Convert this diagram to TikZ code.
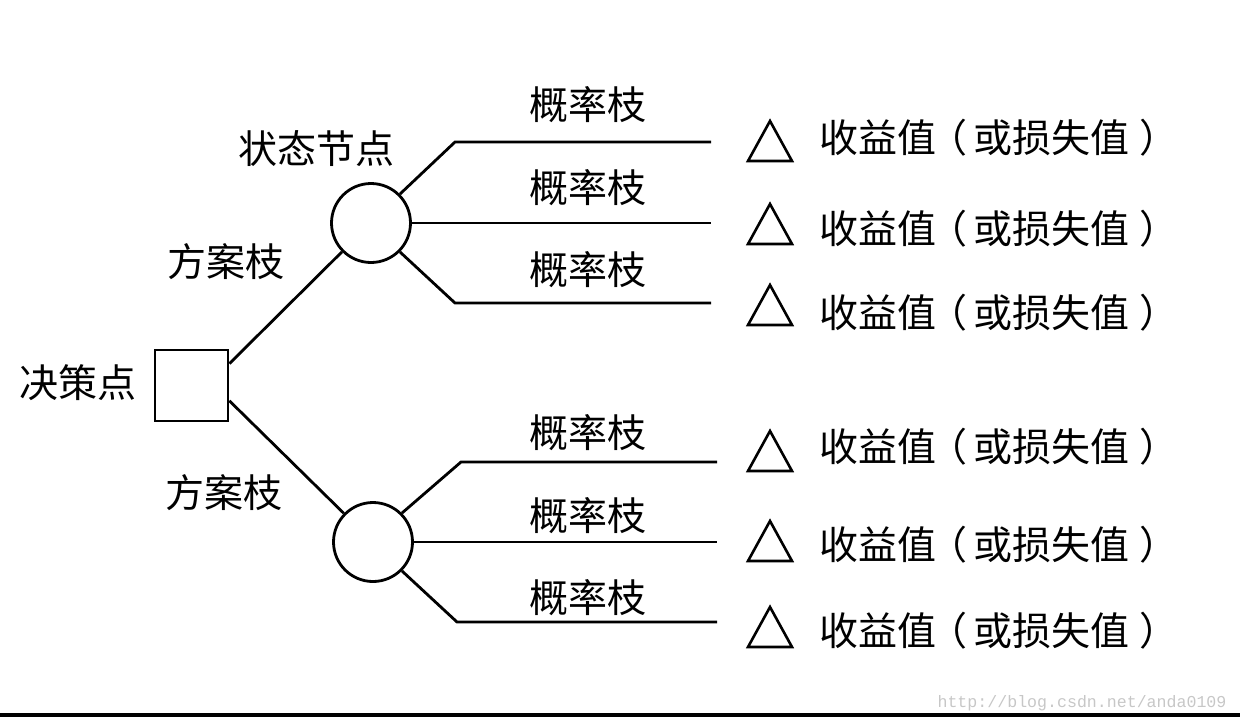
\documentclass[tikz,border=0pt]{standalone}
\usepackage{fontspec}
\setmainfont{Noto Sans CJK SC}
\newfontfamily\wmfont{Liberation Mono}
\newcommand{\valtext}{收益值\kern-0.2em（\kern0.15em或损失值\kern0.25em）}
\begin{document}
\begin{tikzpicture}[x=0.5pt,y=-0.5pt,line width=1.4pt,
  lbl/.style={font=\fontsize{19.5}{21}\selectfont,inner sep=0pt,anchor=center},
  decbox/.style={draw,rectangle,minimum width=36.5pt,minimum height=35.5pt,inner sep=0pt},
  stnode/.style={draw,circle,minimum size=39.5pt,inner sep=0pt},
  branch/.style={line width=1.4pt},
  tri/.style={line width=1.3pt,line join=miter}]
\useasboundingbox (0,0) rectangle (1240,723);

% decision node
\node[decbox] (dec) at (191.5,385.5) {};
\node[lbl] (declbl) at (78,383) {决策点};

% state nodes
\node[stnode] (s1) at (371,223) {};
\node[stnode] (s2) at (373,542) {};
\node[lbl] (s1lbl) at (316,149) {状态节点};

% alternative branches
\draw[branch] (dec.30) -- (s1);
\draw[branch] (dec.-22) -- (s2);
\node[lbl] (a1) at (226,262) {方案枝};
\node[lbl] (a2) at (224,493) {方案枝};

% bend points and branch ends
\coordinate (k1) at (455,142);
\coordinate (k3) at (455,303);
\coordinate (k4) at (461,462);
\coordinate (k6) at (457,622);
\coordinate (e1) at (711,142);
\coordinate (e2) at (711,223);
\coordinate (e3) at (711,303);
\coordinate (e4) at (717,462);
\coordinate (e5) at (717,542);
\coordinate (e6) at (717,622);

\draw[branch] (s1.45) -- (k1) -- (e1);
\draw[branch] (s1.east) -- (e2);
\draw[branch] (s1.-45) -- (k3) -- (e3);
\draw[branch] (s2.45) -- (k4) -- (e4);
\draw[branch] (s2.east) -- (e5);
\draw[branch] (s2.-45) -- (k6) -- (e6);

% probability branch labels
\node[lbl] (p1) at (588,105) {概率枝};
\node[lbl] (p2) at (588,188) {概率枝};
\node[lbl] (p3) at (588,270) {概率枝};
\node[lbl] (p4) at (588,433) {概率枝};
\node[lbl] (p5) at (588,516) {概率枝};
\node[lbl] (p6) at (588,598) {概率枝};

% terminal triangles and values
\foreach \ty/\vy [count=\i] in {141/138,224/229,305/313,451/447,541/545,627/631}{
  \coordinate (t\i) at (770,\ty);
  \draw[tri] ([shift={(-22,20)}]t\i) -- ([shift={(0,-20)}]t\i) -- ([shift={(22,20)}]t\i) -- cycle;
  \node[lbl,anchor=west] (v\i) at (818,\vy) {\valtext};
}

% watermark and bottom rule
\node[font=\wmfont\fontsize{8.3}{9}\selectfont,text=black!22,inner sep=0pt] (wm) at (1082,703) {http://blog.csdn.net/anda0109};
\coordinate (r1) at (0,715);
\coordinate (r2) at (1240,715);
\draw[line width=1.6pt] (r1) -- (r2);
\end{tikzpicture}
\end{document}
